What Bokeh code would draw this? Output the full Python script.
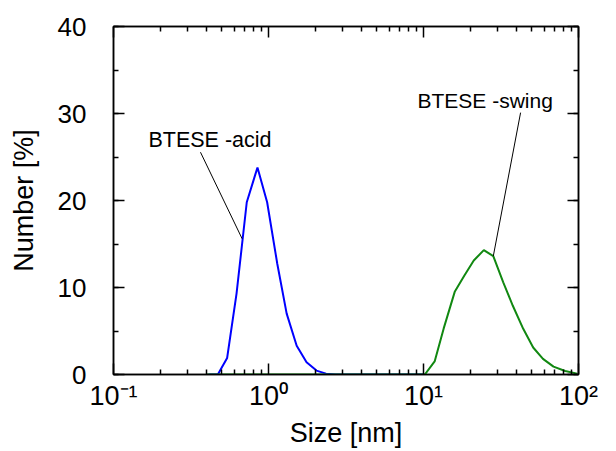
from bokeh.plotting import figure
from bokeh.models import (Range1d, FixedTicker, SingleIntervalTicker, LogAxis, LinearAxis,
                          CustomJSTickFormatter, Label)
from bokeh.embed import file_html
from bokeh.resources import INLINE

# ---- data ----
acid_size = [0.41, 0.471, 0.541, 0.622, 0.724, 0.849, 0.98, 1.14, 1.31, 1.52, 1.76, 2.04, 2.35, 2.7, 10.0]
acid_number = [0, 0, 1.9, 9.3, 19.8, 23.8, 19.8, 12.7, 7.0, 3.3, 1.4, 0.45, 0.1, 0, 0]

swing_size = [0.4, 10.2, 11.8, 13.5, 15.9, 18.4, 21.1, 24.5, 28.2, 32.7, 37.7, 44, 51, 59, 69, 82, 98]
swing_number = [0, 0, 1.5, 5.3, 9.5, 11.4, 13.1, 14.3, 13.6, 10.6, 7.9, 5.25, 3.1, 1.8, 0.9, 0.4, 0.1]

x_major = [0.1, 1, 10, 100]
x_exponents = ["-1", "0", "1", "2"]
x_minor = [m * d for d in [0.1, 1, 10] for m in range(2, 10)]
y_ticks_interval = 10

acid_label = "BTESE -acid"
acid_label_pos = (0.168, 27.0)
acid_leader_x = [0.364, 0.676]
acid_leader_y = [25.55, 15.6]

swing_label = "BTESE -swing"
swing_label_pos = (9.15, 31.5)
swing_leader_x = [42.3, 28.2]
swing_leader_y = [30.1, 13.6]

FONT = "Liberation Sans"

SUP = str.maketrans("-0123456789", "\u207b\u2070\u00b9\u00b2\u00b3\u2074\u2075\u2076\u2077\u2078\u2079")
x_tick_labels = ["10" + e.translate(SUP) for e in x_exponents]

p = figure(width=616, height=451, x_axis_type="log",
           x_range=Range1d(0.1, 100), y_range=Range1d(0, 40),
           output_backend="svg", toolbar_location=None,
           min_border_left=113, min_border_right=38, min_border_top=26, min_border_bottom=77)
p.xgrid.visible = False
p.ygrid.visible = False
p.outline_line_color = "black"
p.outline_line_width = 1.5
p.background_fill_color = "white"
p.border_fill_color = "white"

xt = FixedTicker(ticks=x_major, minor_ticks=x_minor)
yt = SingleIntervalTicker(interval=y_ticks_interval, num_minor_ticks=2)

def style_axis(ax, labels=True):
    ax.axis_line_color = "black"
    ax.axis_line_width = 1.5
    ax.major_tick_in = 11
    ax.major_tick_out = 0
    ax.minor_tick_in = 5
    ax.minor_tick_out = 0
    ax.major_tick_line_color = "black"
    ax.minor_tick_line_color = "black"
    ax.major_tick_line_width = 1.5
    ax.minor_tick_line_width = 1.5
    ax.major_label_text_font = FONT
    ax.major_label_text_color = "black"
    ax.axis_label_text_font = FONT
    ax.axis_label_text_font_style = "normal"
    ax.axis_label_text_font_size = "27px"
    ax.axis_label_text_color = "black"
    if labels:
        ax.major_label_text_font_size = "26px"
    else:
        ax.major_label_text_font_size = "2px"
        ax.major_label_text_alpha = 0.0
        ax.major_label_standoff = 1

xa = p.xaxis[0]
xa.ticker = xt
xa.formatter = CustomJSTickFormatter(args=dict(labels=x_tick_labels),
                                     code="return labels[index];")
style_axis(xa)
xa.major_label_text_font_size = "27px"
xa.major_label_standoff = 6
xa.axis_label = "Size [nm]"
xa.axis_label_standoff = 4

ya = p.yaxis[0]
ya.ticker = yt
style_axis(ya)
ya.major_label_standoff = 27
ya.axis_label = "Number [%]"
ya.axis_label_standoff = 16

top = LogAxis(ticker=FixedTicker(ticks=x_major, minor_ticks=x_minor))
style_axis(top, labels=False)
p.add_layout(top, "above")
right = LinearAxis(ticker=SingleIntervalTicker(interval=y_ticks_interval, num_minor_ticks=2))
style_axis(right, labels=False)
p.add_layout(right, "right")

# curves
p.line(acid_size, acid_number, line_color="#0000ff", line_width=2)
p.line(swing_size, swing_number, line_color="#118811", line_width=2)

# leaders
p.line(acid_leader_x, acid_leader_y, line_color="black", line_width=1)
p.line(swing_leader_x, swing_leader_y, line_color="black", line_width=1)

p.add_layout(Label(x=acid_label_pos[0], y=acid_label_pos[1], text=acid_label,
                   text_font=FONT, text_font_size="21.5px", text_color="black",
                   text_baseline="alphabetic", text_align="left"))
p.add_layout(Label(x=swing_label_pos[0], y=swing_label_pos[1], text=swing_label,
                   text_font=FONT, text_font_size="21px", text_color="black",
                   text_baseline="alphabetic", text_align="left"))

open("out.html", "w").write(file_html(p, INLINE))
